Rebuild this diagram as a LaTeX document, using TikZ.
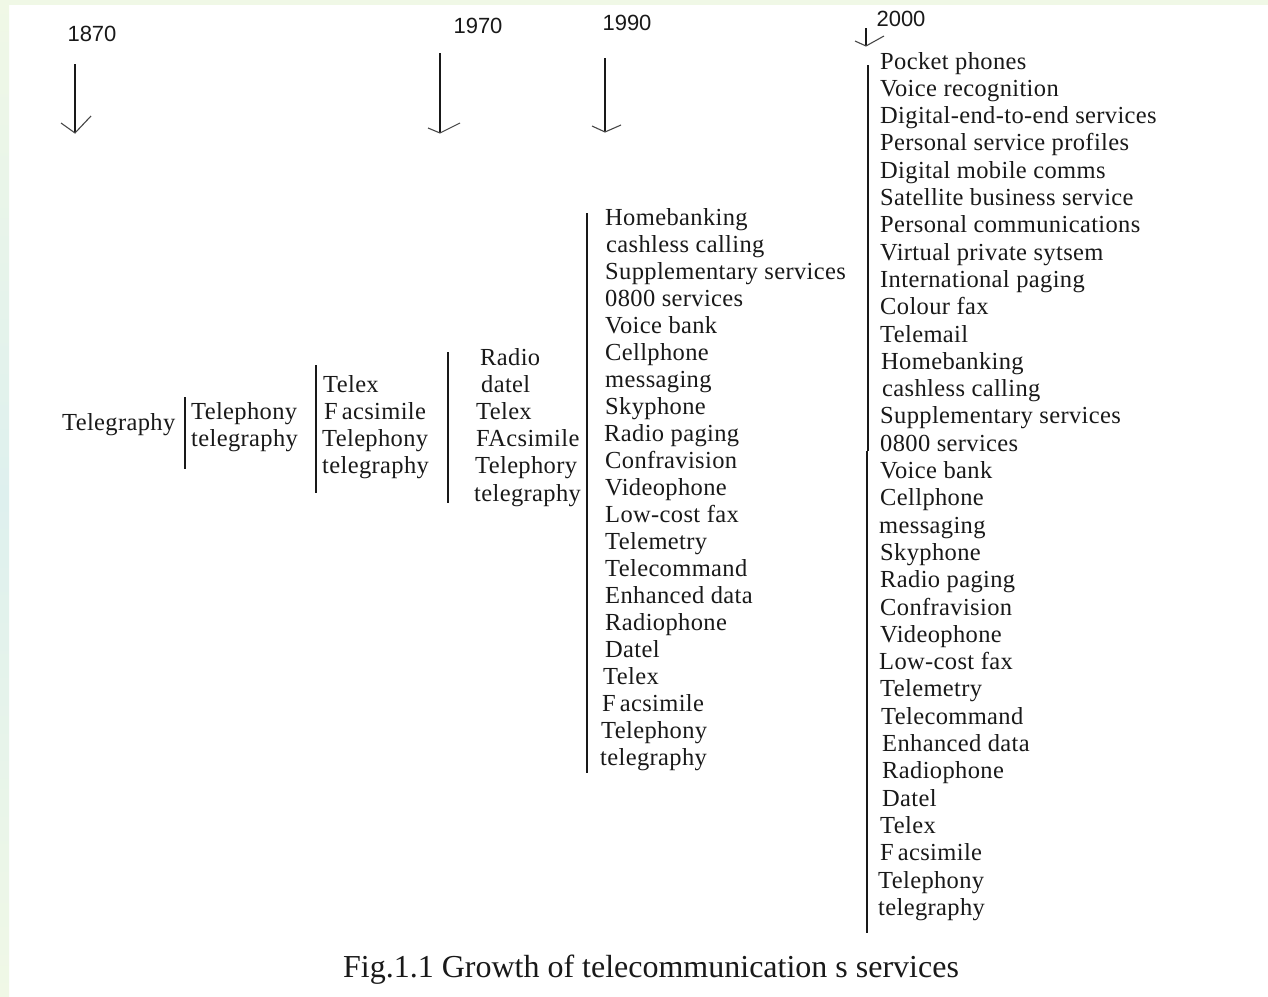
\documentclass[tikz,border=0pt]{standalone}
\usepackage{fontspec}
\setmainfont{Liberation Serif}
\newfontfamily\itemfont[LetterSpace=1.5]{Liberation Serif}
\newfontfamily\yearfont{Liberation Sans}
\newcommand\Fac{F\kern4pt acsimile}
\definecolor{stripA}{RGB}{240,248,230}
\definecolor{stripB}{RGB}{222,240,238}
\definecolor{inkc}{RGB}{25,25,25}
\begin{document}
\begin{tikzpicture}[x=1pt,y=-1pt,
  item/.style={anchor=base west,inner sep=0pt,text=inkc,font=\itemfont\fontsize{24.5}{27}\selectfont},
  year/.style={anchor=base,inner sep=0pt,text=inkc,font=\yearfont\fontsize{22}{24}\selectfont},
  bar/.style={line width=1.4pt,draw=inkc},
  shaft/.style={line width=1.3pt,draw=inkc},
  arm/.style={line width=1.1pt,draw=inkc!80}]
\useasboundingbox (0,0) rectangle (1268,996);
\fill[white] (0,0) rectangle (1268,996);
\shade[top color=stripA,bottom color=stripA,middle color=stripB] (0,0) rectangle (9,996);
\fill[stripA] (0,0) rectangle (1268,5);

% years
\node[year] (y1870) at (92,41) {1870};
\node[year] (y1970) at (478,33) {1970};
\node[year] (y1990) at (627,30) {1990};
\node[year] (y2000) at (901,26) {2000};

% arrows
\coordinate (a1t) at (75,64);  \coordinate (a1h) at (75,133);
\coordinate (a1l) at (61,123); \coordinate (a1r) at (91,116);
\draw[shaft] (a1t) -- (a1h);
\draw[arm] (a1l) -- (a1h) -- (a1r);

\coordinate (a2t) at (440,53);  \coordinate (a2h) at (440,133);
\coordinate (a2l) at (428,128); \coordinate (a2r) at (460,123);
\draw[shaft] (a2t) -- (a2h);
\draw[arm] (a2l) -- (a2h) -- (a2r);

\coordinate (a3t) at (605,58);  \coordinate (a3h) at (605,132);
\coordinate (a3l) at (592,126); \coordinate (a3r) at (621,125);
\draw[shaft] (a3t) -- (a3h);
\draw[arm] (a3l) -- (a3h) -- (a3r);

\coordinate (a4t) at (866,28);  \coordinate (a4h) at (866,46);
\coordinate (a4l) at (855,41);  \coordinate (a4r) at (884,36);
\draw[shaft] (a4t) -- (a4h);
\draw[arm] (a4l) -- (a4h) -- (a4r);

% column 1
\node[item] (c1-1) at (62,430) {Telegraphy};

% column 2
\foreach \dx/\t [count=\i] in {191/Telephony,191/telegraphy}
  \node[item] (c2-\i) at (\dx,{419+27*(\i-1)}) {\t};

% column 3
\foreach \dx/\t [count=\i] in {323/Telex,324/\Fac,322/Telephony,322/telegraphy}
  \node[item] (c3-\i) at (\dx,{392+27*(\i-1)}) {\t};

% column 4
\foreach \dx/\t [count=\i] in {480/Radio,481/datel,476/Telex,476/FAcsimile,475/Telephory,474/telegraphy}
  \node[item] (c4-\i) at (\dx,{365+27.2*(\i-1)}) {\t};

% column 5 (1990)
\foreach \dx/\t [count=\i] in {605/Homebanking,606/cashless calling,605/Supplementary services,605/0800 services,605/Voice bank,605/Cellphone,605/messaging,605/Skyphone,604/Radio paging,605/Confravision,605/Videophone,605/Low-cost fax,605/Telemetry,605/Telecommand,605/Enhanced data,605/Radiophone,605/Datel,603/Telex,602/\Fac,601/Telephony,600/telegraphy}
  \node[item] (c5-\i) at (\dx,{225+27*(\i-1)}) {\t};

% column 6 (2000)
\foreach \dx/\t [count=\i] in {880/Pocket phones,880/Voice recognition,880/Digital-end-to-end services,880/Personal service profiles,880/Digital mobile comms,880/Satellite business service,880/Personal communications,880/Virtual private sytsem,880/International paging,880/Colour fax,880/Telemail,881/Homebanking,882/cashless calling,880/Supplementary services,880/0800 services,880/Voice bank,880/Cellphone,879/messaging,880/Skyphone,880/Radio paging,880/Confravision,880/Videophone,879/Low-cost fax,880/Telemetry,881/Telecommand,882/Enhanced data,882/Radiophone,882/Datel,880/Telex,880/\Fac,878/Telephony,878/telegraphy}
  \node[item] (c6-\i) at (\dx,{69+27.3*(\i-1)}) {\t};

% bars
\coordinate (b1t) at (185,397); \coordinate (b1b) at (185,469);
\coordinate (b2t) at (316,365); \coordinate (b2b) at (316,493);
\coordinate (b3t) at (448,352); \coordinate (b3b) at (448,503);
\coordinate (b4t) at (587,213); \coordinate (b4b) at (587,773);
\coordinate (b5t) at (868,65);  \coordinate (b5m) at (868,451);
\coordinate (b6t) at (867,451); \coordinate (b6b) at (867,933);
\draw[bar] (b1t) -- (b1b);
\draw[bar] (b2t) -- (b2b);
\draw[bar] (b3t) -- (b3b);
\draw[bar] (b4t) -- (b4b);
\draw[bar] (b5t) -- (b5m);
\draw[bar] (b6t) -- (b6b);

% caption
\node[anchor=base,inner sep=0pt,text=inkc,font=\fontsize{32}{34}\selectfont] (cap) at (651,977) {Fig.1.1 Growth of telecommunication s services};
\end{tikzpicture}
\end{document}
